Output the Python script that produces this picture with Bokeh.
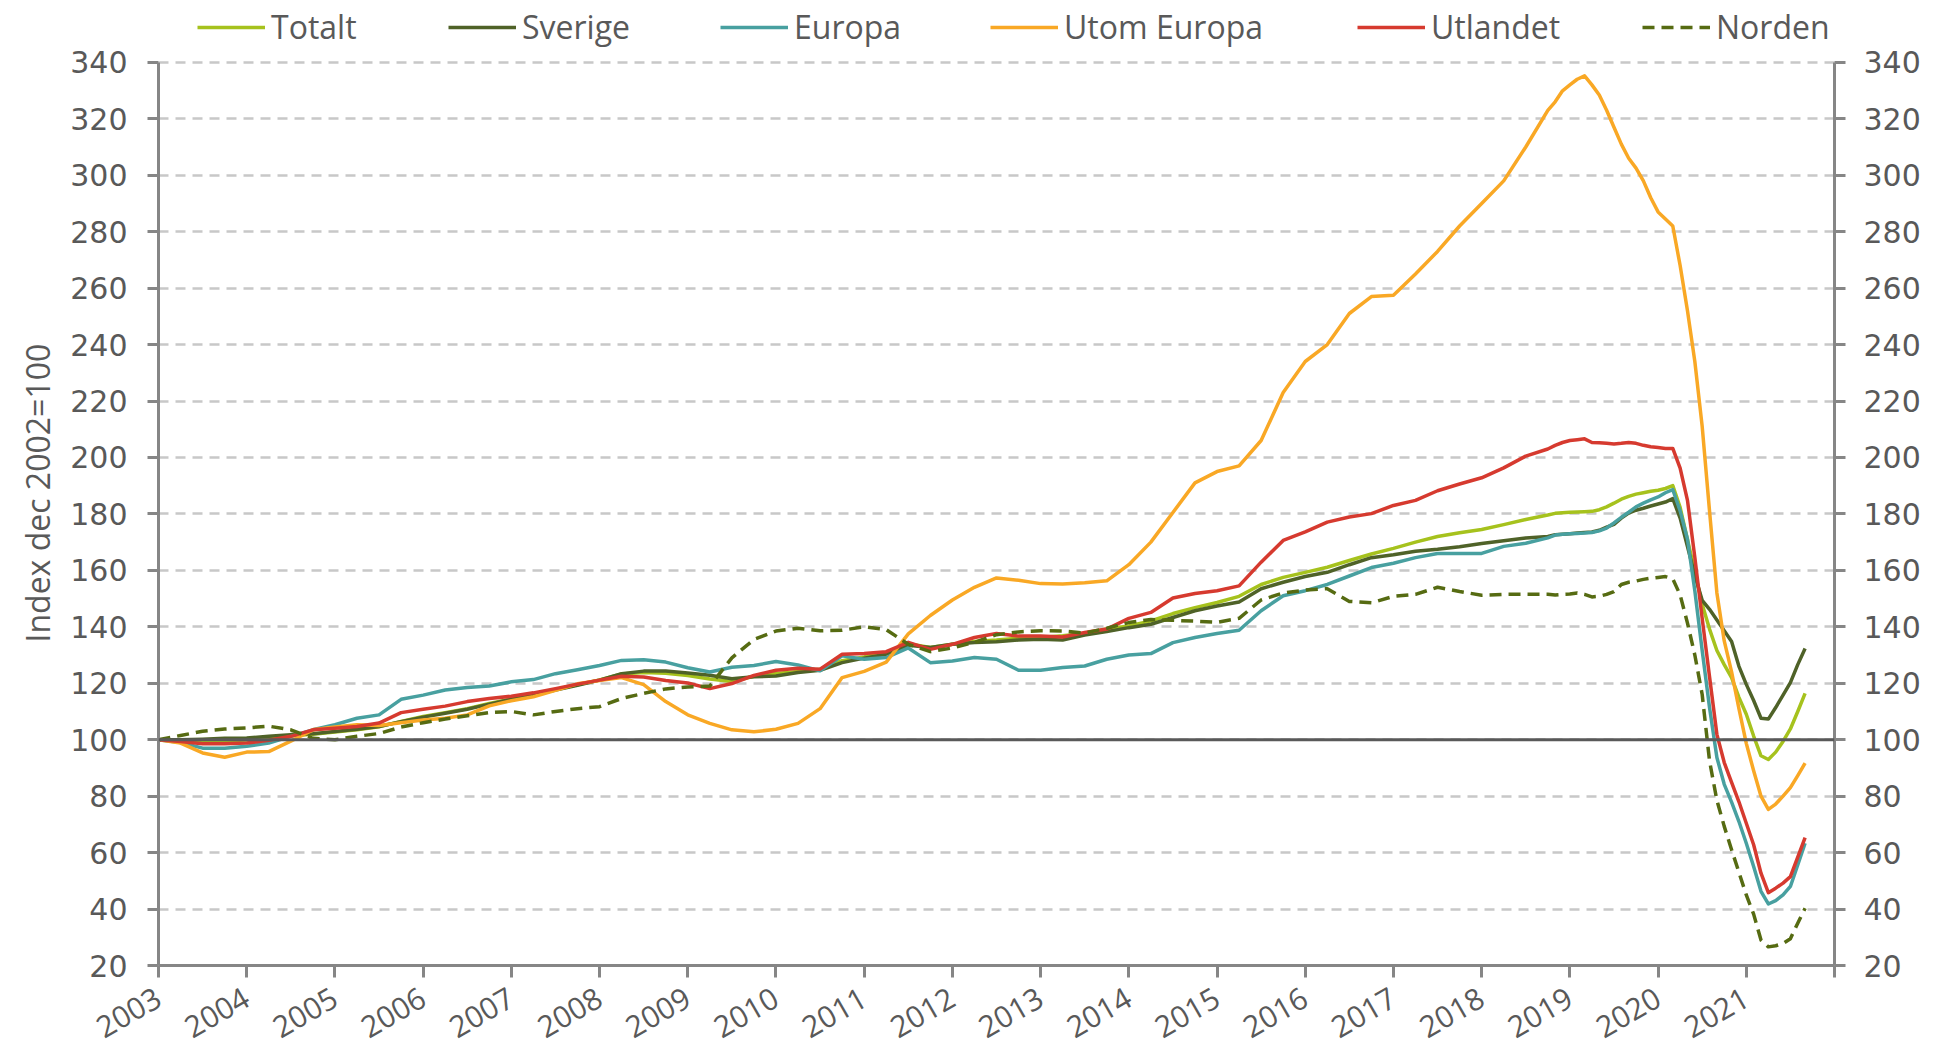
import math
from bokeh.plotting import figure
from bokeh.models import (ColumnDataSource, Range1d, LinearAxis, FixedTicker,
                          Span, Legend, LegendItem, Title)
from bokeh.embed import file_html
from bokeh.resources import INLINE

# ---------------- data ----------------
# quarterly Dec 2002 .. Sep 2018, then monthly Oct 2018 .. Aug 2021 (Dec 2002 = 100)
dates = [
    "2002-12", "2003-03", "2003-06", "2003-09",
    "2003-12", "2004-03", "2004-06", "2004-09",
    "2004-12", "2005-03", "2005-06", "2005-09",
    "2005-12", "2006-03", "2006-06", "2006-09",
    "2006-12", "2007-03", "2007-06", "2007-09",
    "2007-12", "2008-03", "2008-06", "2008-09",
    "2008-12", "2009-03", "2009-06", "2009-09",
    "2009-12", "2010-03", "2010-06", "2010-09",
    "2010-12", "2011-03", "2011-06", "2011-09",
    "2011-12", "2012-03", "2012-06", "2012-09",
    "2012-12", "2013-03", "2013-06", "2013-09",
    "2013-12", "2014-03", "2014-06", "2014-09",
    "2014-12", "2015-03", "2015-06", "2015-09",
    "2015-12", "2016-03", "2016-06", "2016-09",
    "2016-12", "2017-03", "2017-06", "2017-09",
    "2017-12", "2018-03", "2018-06", "2018-09",
    "2018-10", "2018-11", "2018-12",
    "2019-01", "2019-02", "2019-03", "2019-04", "2019-05", "2019-06",
    "2019-07", "2019-08", "2019-09", "2019-10", "2019-11", "2019-12",
    "2020-01", "2020-02", "2020-03", "2020-04", "2020-05", "2020-06",
    "2020-07", "2020-08", "2020-09", "2020-10", "2020-11", "2020-12",
    "2021-01", "2021-02", "2021-03", "2021-04", "2021-05", "2021-06",
    "2021-07", "2021-08",
]

totalt = [
    100.0, 99.7, 99.5, 99.6,
    99.9, 100.6, 101.4, 101.9,
    102.7, 103.5, 104.6, 106.5,
    108.2, 109.6, 111.0, 112.8,
    114.4, 116.0, 117.8, 119.5,
    121.2, 123.3, 123.8, 123.5,
    122.7, 121.5, 120.6, 122.5,
    123.5, 124.2, 125.0, 128.0,
    129.3, 130.9, 134.0, 132.7,
    133.8, 134.8, 135.3, 136.0,
    136.2, 136.8, 137.6, 139.2,
    140.3, 142.1, 144.7, 146.8,
    148.6, 150.8, 155.0, 157.5,
    159.3, 161.1, 163.5, 165.8,
    167.8, 170.0, 172.0, 173.3,
    174.5, 176.2, 178.0, 179.6,
    180.2, 180.4, 180.6,
    180.7, 180.8, 180.9, 181.5, 182.5, 183.8,
    185.2, 186.2, 187.0, 187.5, 188.0, 188.4,
    189.0, 190.0, 182.3, 170.9, 159.5, 148.0,
    139.2, 131.6, 126.6, 122.0, 115.0, 109.0,
    101.3, 94.3, 93.0, 95.6, 99.4, 103.8,
    110.0, 116.4,
]

sverige = [
    100.0, 100.0, 100.2, 100.5,
    100.6, 101.2, 101.8, 102.1,
    102.9, 103.7, 104.7, 106.4,
    108.0, 109.4, 110.8, 112.6,
    114.3, 115.8, 117.6, 119.3,
    121.1, 123.4, 124.3, 124.3,
    123.6, 122.8, 121.6, 122.3,
    122.6, 123.8, 124.6, 127.3,
    128.9, 130.3, 133.5, 132.7,
    133.8, 134.4, 134.7, 135.3,
    135.6, 135.3, 137.1, 138.3,
    139.7, 140.9, 143.3, 145.7,
    147.4, 148.8, 153.5, 155.8,
    157.8, 159.3, 162.0, 164.5,
    165.5, 166.8, 167.5, 168.4,
    169.5, 170.5, 171.5, 172.0,
    172.6, 172.8, 173.0,
    173.2, 173.4, 173.6, 174.2, 175.3, 176.3,
    178.5, 180.3, 181.3, 182.0, 182.8, 183.5,
    184.2, 185.4, 178.5, 168.4, 158.2, 149.4,
    146.2, 142.4, 138.6, 134.8, 126.0, 119.6,
    113.9, 107.6, 107.3, 111.4, 115.8, 120.2,
    126.6, 132.3,
]

europa = [
    100.0, 99.0, 97.0, 97.0,
    97.7, 98.8, 101.2, 103.5,
    105.3, 107.6, 108.8, 114.3,
    115.8, 117.6, 118.5, 119.0,
    120.5, 121.3, 123.4, 124.8,
    126.3, 128.1, 128.3, 127.5,
    125.5, 124.0, 125.7, 126.3,
    127.7, 126.5, 124.4, 129.7,
    128.5, 129.1, 132.5, 127.3,
    127.9, 129.1, 128.5, 124.6,
    124.6, 125.6, 126.1, 128.5,
    130.0, 130.5, 134.4, 136.2,
    137.6, 138.8, 145.7, 151.0,
    152.8, 155.0, 158.0, 161.0,
    162.5, 164.5, 166.0, 166.0,
    166.0, 168.5, 169.6, 171.5,
    172.5, 172.8, 173.0,
    173.1, 173.2, 173.4, 174.0, 175.0, 176.8,
    178.8, 180.6, 182.5, 183.8, 185.0, 186.0,
    187.5, 188.6, 181.1, 171.0, 152.8, 131.6,
    111.4, 93.7, 84.2, 77.9, 71.0, 63.3,
    55.1, 46.3, 41.8, 43.0, 45.0, 48.0,
    55.6, 63.3,
]

utom_europa = [
    100.0, 98.8, 95.3, 93.8,
    95.6, 95.8, 99.5, 103.5,
    104.5, 105.3, 105.0, 106.0,
    107.0, 107.6, 108.8, 112.0,
    113.8, 115.2, 117.5, 119.8,
    121.0, 122.0, 119.5, 113.5,
    108.8, 105.8, 103.5, 102.8,
    103.7, 105.8, 111.0, 122.0,
    124.2, 127.5, 137.5, 144.0,
    149.5, 154.0, 157.3, 156.5,
    155.3, 155.2, 155.6, 156.3,
    162.0, 170.0, 180.5, 191.0,
    195.0, 197.0, 206.0, 223.0,
    234.0, 240.0, 251.0, 257.0,
    257.5, 265.0, 273.0, 282.0,
    290.0, 298.0, 310.0, 323.0,
    326.0, 329.9, 332.0,
    334.0, 335.2, 332.0, 328.4, 323.0, 317.0,
    311.0, 306.0, 302.5, 298.0, 292.0, 287.0,
    284.5, 282.0, 268.0, 252.0, 234.0, 211.0,
    181.0, 152.0, 135.0, 124.0, 111.0, 98.7,
    89.0, 80.0, 75.3, 77.2, 80.0, 83.0,
    87.3, 91.7,
]

utlandet = [
    100.0, 99.4, 98.6, 98.6,
    98.8, 99.8, 101.2, 103.5,
    104.1, 104.7, 105.9, 109.6,
    110.8, 111.9, 113.5, 114.6,
    115.4, 116.6, 118.1, 119.7,
    121.1, 122.5, 122.2, 121.0,
    120.1, 118.1, 119.9, 122.8,
    124.6, 125.3, 125.0, 130.3,
    130.5, 131.2, 134.5, 132.0,
    133.8, 136.2, 137.6, 136.7,
    136.7, 136.4, 138.0, 139.2,
    143.0, 145.1, 150.2, 151.8,
    152.8, 154.5, 162.9, 170.6,
    173.6, 177.1, 178.9, 180.1,
    183.0, 184.8, 188.2, 190.6,
    192.8, 196.3, 200.5, 203.0,
    204.3, 205.3, 206.0,
    206.3, 206.6, 205.3, 205.2, 205.0, 204.8,
    205.0, 205.3, 205.0, 204.3, 203.8, 203.5,
    203.2, 203.2, 196.2, 184.8, 164.6, 143.0,
    122.3, 101.9, 91.9, 84.9, 78.0, 70.4,
    62.8, 52.7, 45.8, 47.4, 49.2, 51.5,
    58.4, 65.3,
]

norden = [
    100.0, 101.5, 103.0, 103.8,
    104.2, 104.8, 103.5, 100.5,
    100.0, 101.2, 102.2, 104.5,
    106.0, 107.3, 108.5, 109.6,
    110.0, 108.8, 110.0, 111.0,
    111.7, 114.6, 116.4, 118.0,
    118.7, 119.0, 129.0, 135.5,
    138.5, 139.5, 138.6, 138.8,
    140.0, 139.0, 133.8, 131.2,
    132.5, 134.5, 137.2, 138.2,
    138.6, 138.5, 137.8, 139.5,
    141.5, 142.6, 142.3, 142.0,
    141.6, 143.0, 149.5, 152.0,
    153.0, 153.5, 149.0, 148.5,
    150.8, 151.5, 154.0, 152.5,
    151.2, 151.5, 151.5, 151.5,
    151.3, 151.5, 151.6,
    152.0, 151.5, 150.6, 150.8, 151.5, 152.5,
    155.0, 155.8, 156.2, 156.8, 157.2, 157.5,
    157.8, 157.0, 151.3, 141.3, 130.0, 116.0,
    92.5, 78.5, 69.3, 61.0, 53.0, 45.0,
    38.2, 29.0, 26.6, 27.0, 27.8, 29.5,
    35.0, 40.3,
]

series_names = ["Totalt", "Sverige", "Europa", "Utom Europa", "Utlandet", "Norden"]
y_title = "Index dec 2002=100"
year_ticks = list(range(2003, 2023))
value_ticks = list(range(20, 341, 20))

# ---------------- figure ----------------
xs = [int(d[:4]) + int(d[5:7]) / 12.0 for d in dates]
src = ColumnDataSource(dict(x=xs, totalt=totalt, sverige=sverige, europa=europa,
                            utom=utom_europa, utlandet=utlandet, norden=norden))

TXT = "#595959"
AX = "#868686"

# frame reaches the top of the canvas so the legend row can live inside it;
# the value axes are bounded to 20..340
p = figure(width=1923, height=1050, output_backend="svg", toolbar_location=None,
           x_range=Range1d(2003, 2022), y_range=Range1d(20, 361.9),
           min_border_left=158, min_border_right=82, min_border_top=0,
           min_border_bottom=84)
p.outline_line_color = None
p.background_fill_color = "white"
p.border_fill_color = "white"

# grid
p.xgrid.visible = False
p.ygrid.ticker = FixedTicker(ticks=value_ticks)
p.ygrid.grid_line_color = "#c8c8c8"
p.ygrid.grid_line_width = 2.5
p.ygrid.grid_line_dash = "10 7"

# x axis
xa = p.xaxis[0]
xa.ticker = FixedTicker(ticks=year_ticks)
xa.major_label_overrides = {y: (str(y) if y < 2022 else "") for y in year_ticks}
xa.major_label_orientation = math.pi / 6
xa.major_label_text_font = "Open Sans"
xa.major_label_text_font_size = "30px"
xa.major_label_text_color = TXT
xa.major_label_standoff = 18
xa.axis_line_color = AX
xa.axis_line_width = 3
xa.major_tick_line_color = AX
xa.major_tick_line_width = 3
xa.major_tick_out = 12
xa.major_tick_in = 0
xa.minor_tick_out = 0
xa.minor_tick_in = 0

# y axes
ya = p.yaxis[0]
ra = LinearAxis()
p.add_layout(ra, "right")
for ax in (ya, ra):
    ax.bounds = (20, 340)
    ax.ticker = FixedTicker(ticks=value_ticks)
    ax.major_label_text_font = "DejaVu Sans"
    ax.major_label_text_font_size = "30px"
    ax.major_label_text_color = TXT
    ax.major_label_standoff = 20
    ax.axis_line_color = AX
    ax.axis_line_width = 3
    ax.major_tick_line_color = AX
    ax.major_tick_line_width = 3
    ax.major_tick_out = 11
    ax.major_tick_in = 0
    ax.minor_tick_out = 0
    ax.minor_tick_in = 0
ra.major_label_standoff = 18

# value-axis title, anchored from the bottom like the reference
ttl = Title(text=y_title, align="left", offset=323, standoff=18,
            text_font="Open Sans", text_font_size="32px",
            text_font_style="normal", text_color=TXT)
p.add_layout(ttl, "left")

# lines
colors = ["#a6c21d", "#4f6228", "#48a0a0", "#f9a825", "#d63a2f", "#566b12"]
cols = ["totalt", "sverige", "europa", "utom", "utlandet", "norden"]
renderers = []
for name, col, c in zip(series_names, cols, colors):
    kw = dict(line_color=c, line_width=3.5, line_join="round")
    if col == "norden":
        kw["line_dash"] = "12 7"
    r = p.line(x="x", y=col, source=src, **kw)
    renderers.append(r)

p.add_layout(Span(location=100, dimension="width", line_color="#595959", line_width=3))

# legends (one per entry, positioned like the reference)
legend_x = [39, 290, 562, 832, 1199, 1484]
for name, r, lx in zip(series_names, renderers, legend_x):
    lg = Legend(items=[LegendItem(label=name, renderers=[r])],
                location=(lx, 917), orientation="horizontal")
    lg.label_text_font = "Open Sans"
    lg.label_text_font_size = "32px"
    lg.label_text_color = TXT
    lg.glyph_width = 68
    lg.glyph_height = 20
    lg.label_standoff = 6
    lg.padding = 0
    lg.margin = 0
    lg.spacing = 0
    lg.border_line_color = None
    lg.background_fill_alpha = 0
    p.add_layout(lg, "center")

open("out.html", "w").write(file_html(p, INLINE))
